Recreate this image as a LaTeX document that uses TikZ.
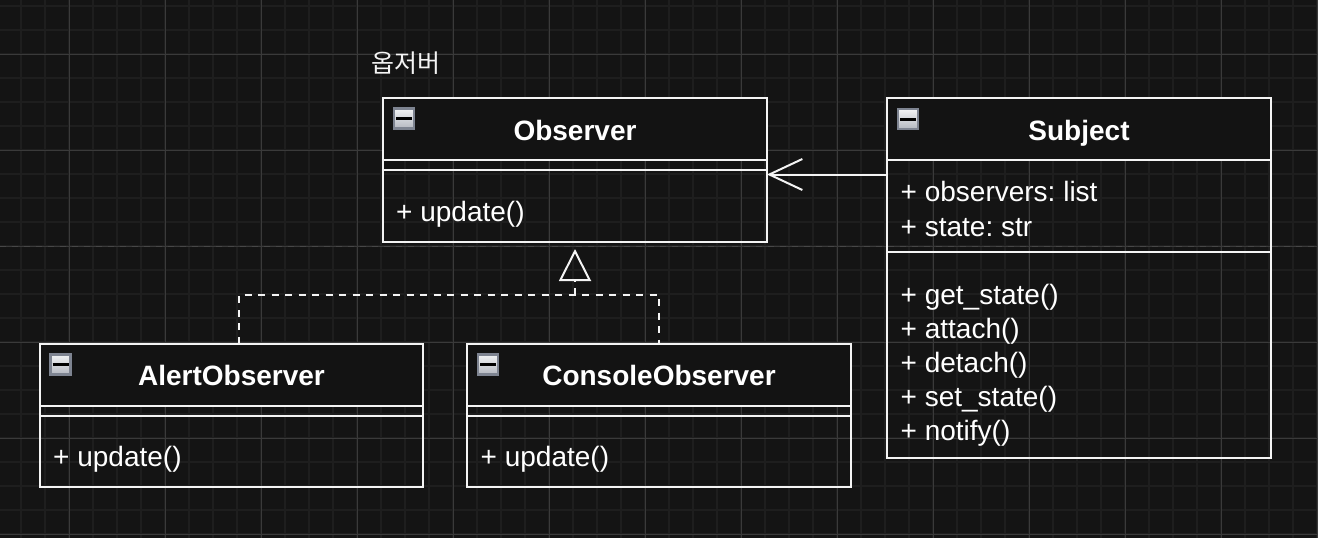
\documentclass[tikz,border=0pt]{standalone}
\usepackage{fontspec}
\setmainfont{Liberation Sans}
\newfontfamily\krfont{Noto Sans CJK KR}
\usetikzlibrary{arrows.meta}
\frenchspacing
\definecolor{bg}{HTML}{141414}
\definecolor{gminor}{HTML}{1E1E1E}
\definecolor{gmajor}{HTML}{3A3A3A}
\definecolor{pgbreak}{HTML}{474747}
\definecolor{fg}{HTML}{F4F4F4}
\definecolor{hdr}{HTML}{131313}
\definecolor{iconedge}{HTML}{7E8491}
\definecolor{icontop}{HTML}{F2F3F5}
\definecolor{iconbot}{HTML}{B4B8C0}
\begin{document}
\begin{tikzpicture}[x=1pt,y=-1pt,
  minorgrid/.style={gminor,line width=2pt},
  majorgrid/.style={gmajor,line width=1pt},
  pagebreakline/.style={pgbreak,line width=1.5pt,dash pattern=on 6pt off 6pt},
  frame/.style={draw=fg,line width=2pt,inner sep=0pt,outer sep=0pt,anchor=north west},
  header/.style={draw=fg,fill=hdr,line width=2pt,inner sep=0pt,outer sep=0pt,anchor=north west,minimum height=62pt},
  sepline/.style={fg,line width=2pt},
  titletext/.style={text=white,font=\fontsize{28}{34}\selectfont\bfseries,anchor=base,inner sep=0pt},
  membertext/.style={text=white,font=\fontsize{28}{34}\selectfont,anchor=base west,inner sep=0pt},
  collapseicon/.style={draw=iconedge,line width=2.2pt,top color=icontop,bottom color=iconbot,minimum size=20pt,inner sep=0pt,
    path picture={\draw[black,line width=3pt] ([xshift=-8pt]path picture bounding box.center) -- ([xshift=8pt]path picture bounding box.center);}},
  assoc/.style={fg,line width=2pt,-{Straight Barb[length=33pt,width=31pt]}},
  realize/.style={fg,line width=2pt,dash pattern=on 7pt off 6.5pt},
  realizetip/.style={fg,line width=2pt,-{Triangle[open,length=32pt,width=32pt]}}
]
\useasboundingbox (0,0) rectangle (1318,538);
\fill[bg] (0,0) rectangle (1318,538);
% grid
\foreach \i in {0,...,54}{\draw[minorgrid] ({21.3+24*\i},0) -- ({21.3+24*\i},538);}
\foreach \j in {0,...,22}{\draw[minorgrid] (0,{6+24*\j}) -- (1318,{6+24*\j});}
\foreach \i in {0,...,13}{\draw[majorgrid] ({69.3+96*\i},0) -- ({69.3+96*\i},538);}
\foreach \j in {0,...,5}{\draw[majorgrid] (0,{54+96*\j}) -- (1318,{54+96*\j});}
\draw[pagebreakline] (0,246.5) -- (1318,246.5);

% label
\node[text=fg,font=\krfont\fontsize{25}{30}\selectfont,anchor=base,inner sep=0pt] (lbl) at (405.7,72.5) {옵저버};

% Observer
\node[frame,minimum width=384pt,minimum height=144pt] (obs) at (383,98) {};
\node[header,minimum width=384pt] (obsh) at (383,98) {};
\draw[sepline] ([yshift=-10pt]obsh.south west) -- ([yshift=-10pt]obsh.south east);
\node[collapseicon] (obsi) at (404,118.5) {};
\node[titletext] (obst) at (575,140.7) {Observer};
\node[membertext] (obsm) at (396,221.7) {+ update()};

% Subject
\node[frame,minimum width=384pt,minimum height=360pt] (subj) at (887,98) {};
\node[header,minimum width=384pt] (subjh) at (887,98) {};
\draw[sepline] (subj.west |- 0,252) -- (subj.east |- 0,252);
\node[collapseicon] (subji) at (908,119) {};
\node[titletext] (subjt) at (1079,140.7) {Subject};
\node[membertext] (subja1) at (900.5,201.7) {+ observers: list};
\node[membertext] (subja2) at (900.5,236.7) {+ state: str};
\node[membertext] (subjm1) at (900.5,304) {+ get\_state()};
\node[membertext] (subjm2) at (900.5,338) {+ attach()};
\node[membertext] (subjm3) at (900.5,372) {+ detach()};
\node[membertext] (subjm4) at (900.5,406) {+ set\_state()};
\node[membertext] (subjm5) at (900.5,440) {+ notify()};

% AlertObserver
\node[frame,minimum width=383pt,minimum height=143pt] (alert) at (40,343.5) {};
\node[header,minimum width=383pt] (alerth) at (40,343.5) {};
\draw[sepline] ([yshift=-10pt]alerth.south west) -- ([yshift=-10pt]alerth.south east);
\node[collapseicon] (alerti) at (60.5,364.5) {};
\node[titletext] (alertt) at (231.5,385.5) {AlertObserver};
\node[membertext] (alertm) at (53,466.7) {+ update()};

% ConsoleObserver
\node[frame,minimum width=384pt,minimum height=143pt] (cons) at (467,343.5) {};
\node[header,minimum width=384pt] (consh) at (467,343.5) {};
\draw[sepline] ([yshift=-10pt]consh.south west) -- ([yshift=-10pt]consh.south east);
\node[collapseicon] (consi) at (488,364.5) {};
\node[titletext] (const) at (659,385.5) {ConsoleObserver};
\node[membertext] (consm) at (480.5,466.7) {+ update()};

% association Subject -> Observer
\draw[assoc] ([yshift=-4.5pt]subj.west |- obs.east) -- ([yshift=-4.5pt]obs.east);

% realization
\coordinate (jn) at (575,295);
\draw[realize] ([xshift=7.5pt]alert.north) |- (jn -| cons.north) -- (cons.north);
\draw[realize] (jn) -- ([yshift=-39pt]obs.south);
\draw[realizetip] ([yshift=-39pt]obs.south) -- ([yshift=-7pt]obs.south);
\end{tikzpicture}
\end{document}
